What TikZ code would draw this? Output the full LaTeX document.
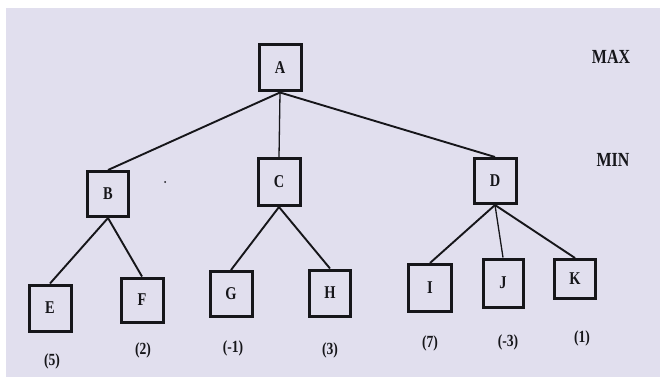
\documentclass[tikz,border=0pt]{standalone}
\usepackage{fontspec}
\setmainfont{Liberation Serif}
\definecolor{bgcol}{HTML}{E1DFEE}
\definecolor{ink}{HTML}{16161A}
\newcommand{\narrowtxt}[1]{\scalebox{0.8}[1]{#1}}
\begin{document}
\begin{tikzpicture}[x=1pt,y=-1pt,
  box/.style={draw=ink,line width=3pt,inner sep=0pt,font=\fontsize{18}{18}\selectfont\bfseries,text=ink},
  edge/.style={draw=ink,line width=1.9pt},
  thinedge/.style={draw=ink,line width=1.3pt},
  val/.style={font=\fontsize{17}{17}\selectfont\bfseries,text=ink},
  lvl/.style={font=\fontsize{20}{20}\selectfont\bfseries,text=ink}]
\useasboundingbox (0,0) rectangle (660,377);
\fill[white] (0,0) rectangle (660,377);
\fill[bgcol] (6,8) rectangle (660,377);
% nodes
\node[box,minimum width=42pt,minimum height=46pt] (A) at (280,68) {\narrowtxt{A}};
\node[box,minimum width=41pt,minimum height=45pt] (B) at (108,194) {\narrowtxt{B}};
\node[box,minimum width=42pt,minimum height=47pt] (C) at (279,182) {\narrowtxt{C}};
\node[box,minimum width=42pt,minimum height=45pt] (D) at (495,181) {\narrowtxt{D}};
\node[box,minimum width=42pt,minimum height=46pt] (E) at (50,308) {\narrowtxt{E}};
\node[box,minimum width=42pt,minimum height=44pt] (F) at (142,300) {\narrowtxt{F}};
\node[box,minimum width=42pt,minimum height=45pt] (G) at (231,294) {\narrowtxt{G}};
\node[box,minimum width=41pt,minimum height=46pt] (H) at (330,293) {\narrowtxt{H}};
\node[box,minimum width=43pt,minimum height=47pt] (I) at (430,288) {\narrowtxt{I}};
\node[box,minimum width=40pt,minimum height=48pt] (J) at (503,283) {\narrowtxt{J}};
\node[box,minimum width=41pt,minimum height=39pt] (K) at (575,279) {\narrowtxt{K}};
% edges
\draw[edge] (A.south) -- (B.north);
\draw[thinedge] (A.south) -- (C.north);
\draw[edge] (A.south) -- (D.north);
\draw[edge] (B.south) -- (E.north);
\draw[edge] (B.south) -- (F.north);
\draw[edge] (C.south) -- (G.north);
\draw[edge] (C.south) -- (H.north);
\draw[edge] (D.south) -- (I.north);
\draw[thinedge] (D.south) -- (J.north);
\draw[edge] (D.south) -- (K.north);
% values
\node[val] (vE) at (52,361) {\narrowtxt{(5)}};
\node[val] (vF) at (143,350) {\narrowtxt{(2)}};
\node[val] (vG) at (233,348) {\narrowtxt{(-1)}};
\node[val] (vH) at (330,350) {\narrowtxt{(3)}};
\node[val] (vI) at (430,343) {\narrowtxt{(7)}};
\node[val] (vJ) at (508,342) {\narrowtxt{(-3)}};
\node[val] (vK) at (582,338) {\narrowtxt{(1)}};
% level labels
\node[lvl] (max) at (611,57) {\narrowtxt{MAX}};
\node[lvl] (min) at (613,160) {\narrowtxt{MIN}};
\fill[ink] (165,182) circle (1pt);
\end{tikzpicture}
\end{document}
